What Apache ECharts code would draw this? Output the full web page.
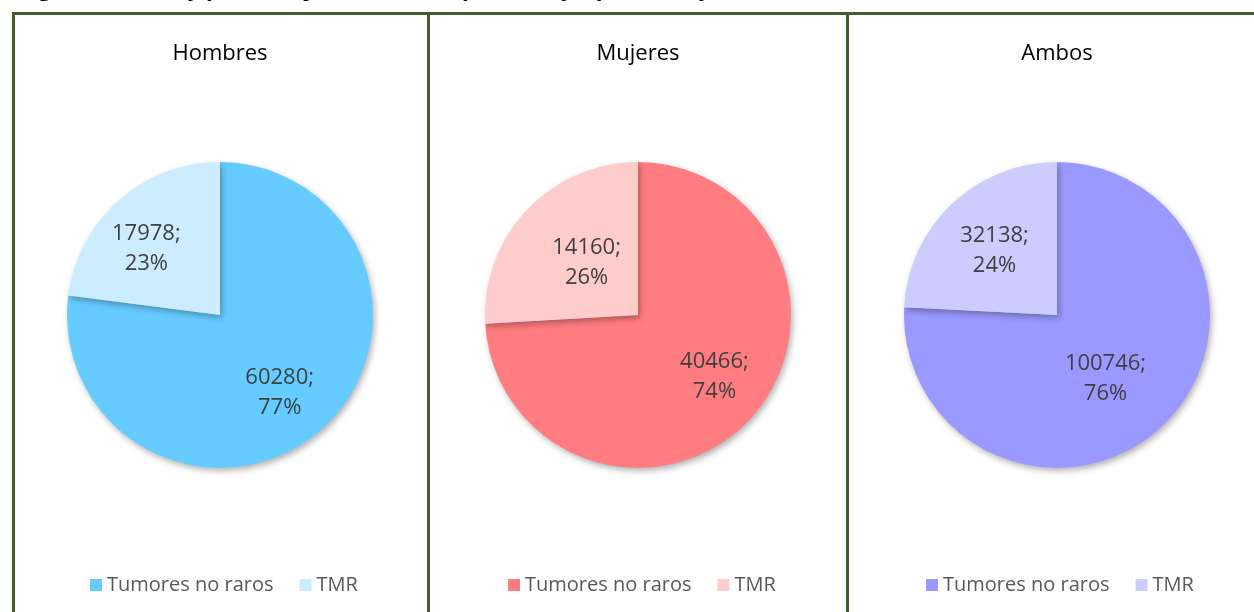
<!DOCTYPE html>
<html>
<head>
<meta charset="utf-8">
<script src="https://cdn.jsdelivr.net/npm/echarts@6/dist/echarts.min.js"></script>
<style>
    body { margin: 0; background: #fff; width: 1254px; height: 612px; overflow: hidden; position: relative; font-family: "Open Sans", sans-serif; }
    .chart { position: absolute; top: 0; height: 612px; }
    .line { position: absolute; background: #3f5e2a; z-index: 5; }
    .cap { position: absolute; left: 20px; top: -28px; line-height: 30px; font: bold 22px "Open Sans", sans-serif; color: #000; white-space: nowrap; }
</style>
</head>
<body>
<div class="cap">Figura 2. Casos y porcentaje de tumores por sexo y tipo: raros y no raros, ambos sexos</div>
<div id="c0" class="chart" style="left:0px;width:428px"></div>
<div id="c1" class="chart" style="left:428px;width:419px"></div>
<div id="c2" class="chart" style="left:847px;width:407px"></div>
<div class="line" style="left:12px;top:12px;width:1242px;height:3px"></div>
<div class="line" style="left:12px;top:12px;width:3px;height:600px"></div>
<div class="line" style="left:427px;top:12px;width:3px;height:600px"></div>
<div class="line" style="left:846px;top:12px;width:3px;height:600px"></div>
<script>
// datos
var categories = ["Tumores no raros", "TMR"];
var panelTitles = ["Hombres", "Mujeres", "Ambos"];
var hombres = [60280, 17978];
var mujeres = [40466, 14160];
var ambos = [100746, 32138];
var panelColors = [
    ["#66ccff", "#ccecff"],
    ["#ff7c80", "#ffcccc"],
    ["#9999ff", "#ccccff"]
];
var panelData = [hombres, mujeres, ambos];

// centro del pastel dentro de cada div y posicion de la leyenda
var centerX = [220, 210, 210];
var legendLeft = [85, 75, 74];
var R = 153;
// ajuste fino de las etiquetas (como las coloca Excel)
var labelShift = [
    [[-7, 2], [-7, 9]],
    [[3, -8], [22, 17]],
    [[-21, -9], [7, 9]]
];

function buildOption(k) {
    var vals = panelData[k];
    var total = vals[0] + vals[1];
    var data = categories.map(function (c, i) {
        return { name: c, value: vals[i], itemStyle: { color: panelColors[k][i] } };
    });
    return {
        animation: false,
        title: {
            text: panelTitles[k],
            left: centerX[k] - 5,
            top: 38,
            textAlign: "center",
            textStyle: { fontFamily: "Open Sans", fontSize: 22, fontWeight: "normal", color: "#000" }
        },
        legend: {
            left: legendLeft[k],
            top: 570,
            itemWidth: 12,
            itemHeight: 12,
            itemGap: 26,
            icon: "rect",
            data: categories,
            textStyle: { fontFamily: "Open Sans", fontSize: 20, color: "#595959" }
        },
        series: [{
            type: "pie",
            center: [centerX[k], 315],
            radius: [0, R],
            startAngle: 90,
            clockwise: true,
            label: { show: false },
            labelLine: { show: false },
            itemStyle: {
                borderWidth: 0,
                shadowBlur: 6,
                shadowOffsetX: 2,
                shadowOffsetY: 3,
                shadowColor: "rgba(0,0,0,0.3)"
            },
            emphasis: { disabled: true },
            data: data
        }, {
            // solo etiquetas, un poco mas afuera que el centro del sector
            type: "pie",
            center: [centerX[k], 315],
            radius: [0, R * 1.28],
            startAngle: 90,
            clockwise: true,
            silent: true,
            itemStyle: { color: "transparent" },
            label: {
                show: true,
                position: "inside",
                fontFamily: "Open Sans",
                fontSize: 22,
                lineHeight: 30,
                color: "#404040",
                formatter: function (p) {
                    return p.value + ";\n" + Math.round(p.value / total * 100) + "%";
                }
            },
            labelLine: { show: false },
            emphasis: { disabled: true },
            data: categories.map(function (c, i) {
                return { name: c, value: vals[i], label: { offset: labelShift[k][i] } };
            })
        }]
    };
}

for (var k = 0; k < 3; k++) {
    var chart = echarts.init(document.getElementById("c" + k));
    chart.setOption(buildOption(k));
}
</script>
</body>
</html>
